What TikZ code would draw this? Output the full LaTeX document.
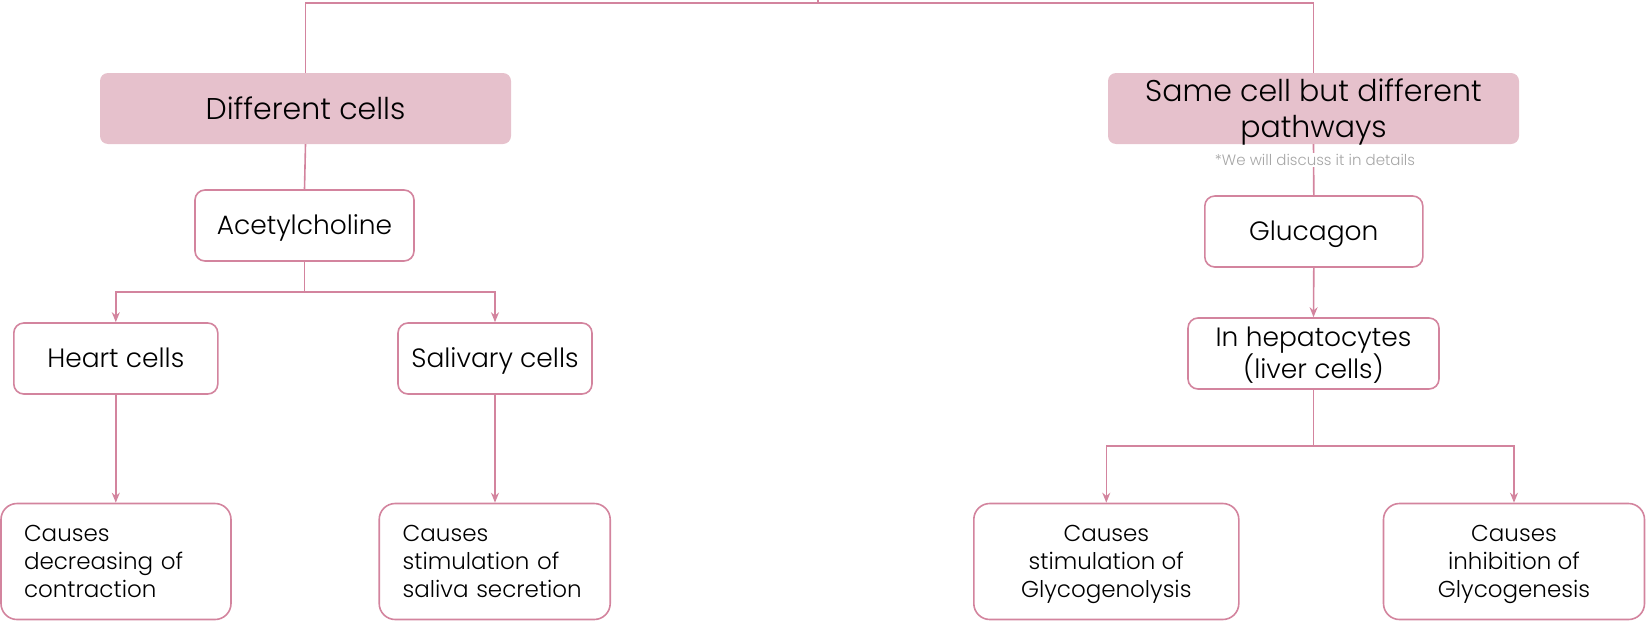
\documentclass[tikz,border=0pt]{standalone}
\usepackage{fontspec}
\setmainfont{Poppins Light}
\usetikzlibrary{arrows.meta}
\definecolor{lnk}{RGB}{211,132,158}
\definecolor{hdr}{RGB}{230,193,204}
\definecolor{notegray}{RGB}{166,166,166}
\begin{document}
\begin{tikzpicture}[x=1pt,y=-1pt,
  conn/.style={draw=lnk, line width=1.6pt},
  arr/.style={-{Stealth[length=10pt,width=8pt]}},
  hdrbox/.style={fill=hdr, rounded corners=8pt, minimum height=71pt, inner sep=0pt, align=center, font=\fontsize{30}{36}\selectfont, text height=21pt, text depth=0pt},
  midbox/.style={draw=lnk, line width=1.6pt, fill=white, rounded corners=10pt, minimum height=71pt, inner sep=0pt, align=center, font=\fontsize{26.5}{32}\selectfont, text height=18.5pt, text depth=0pt},
  endframe/.style={draw=lnk, line width=1.6pt, fill=white, rounded corners=16pt, minimum height=116pt, inner sep=0pt, font=\fontsize{23}{28}\selectfont},
  endboxC/.style={endframe, align=center, text height=72.5pt, text depth=0pt},
  endboxL/.style={endframe, text width=184pt, align=left},
  notetext/.style={fill=white, text=notegray, inner sep=1pt, font=\fontsize{15}{18}\selectfont}
]
\useasboundingbox (0,0) rectangle (1646,621);
% nodes
\node[hdrbox, minimum width=411pt] (dc) at (305.5,108.5) {Different cells};
\node[hdrbox, minimum width=411pt, text height=57pt] (sc) at (1313.5,108.5) {Same cell but different\\pathways};
\node[midbox, minimum width=219pt] (ach) at (304.5,225.5) {Acetylcholine};
\node[midbox, minimum width=204pt] (heart) at (115.8,358.5) {Heart cells};
\node[midbox, minimum width=194pt] (sal) at (495,358.5) {Salivary cells};
\node[endboxL, minimum width=230pt] (c1) at (116,561.5) {Causes\\decreasing of\\contraction};
\node[endboxL, minimum width=231pt] (c2) at (494.7,561.5) {Causes\\stimulation of\\saliva secretion};
\node[midbox, minimum width=218pt] (glu) at (1313.8,231.5) {Glucagon};
\node[midbox, minimum width=251pt, text height=50.5pt] (hep) at (1313.5,353.5) {In hepatocytes\\(liver cells)};
\node[endboxC, minimum width=265pt] (c3) at (1106.3,561.5) {Causes\\stimulation of\\Glycogenolysis};
\node[endboxC, minimum width=261pt] (c4) at (1514,561.5) {Causes\\inhibition of\\Glycogenesis};
% coordinates
\coordinate (t0) at (818,0);
\coordinate (tm) at (818,3);
\coordinate (b1) at (304.5,292);
\coordinate (b2) at (1313.5,446);
% connectors
\draw[conn] (t0) -- (tm);
\draw[conn] (dc.north) -- (dc.north |- tm) -- (sc.north |- tm) -- (sc.north);
\draw[conn] (dc.south) -- (ach.north);
\draw[conn, arr] (ach.south) -- (b1) -| (heart.north);
\draw[conn, arr] (b1) -| (sal.north);
\draw[conn, arr] (heart.south) -- (heart.south |- c1.north);
\draw[conn, arr] (sal.south) -- (sal.south |- c2.north);
\draw[conn] (sc.south) -- (glu.north);
\node[notetext] (note) at (1315,160) {*We will discuss it in details};
\draw[conn, arr] (glu.south) -- (hep.north);
\draw[conn, arr] (hep.south) -- (b2) -| (c3.north);
\draw[conn, arr] (b2) -| (c4.north);
\end{tikzpicture}
\end{document}
